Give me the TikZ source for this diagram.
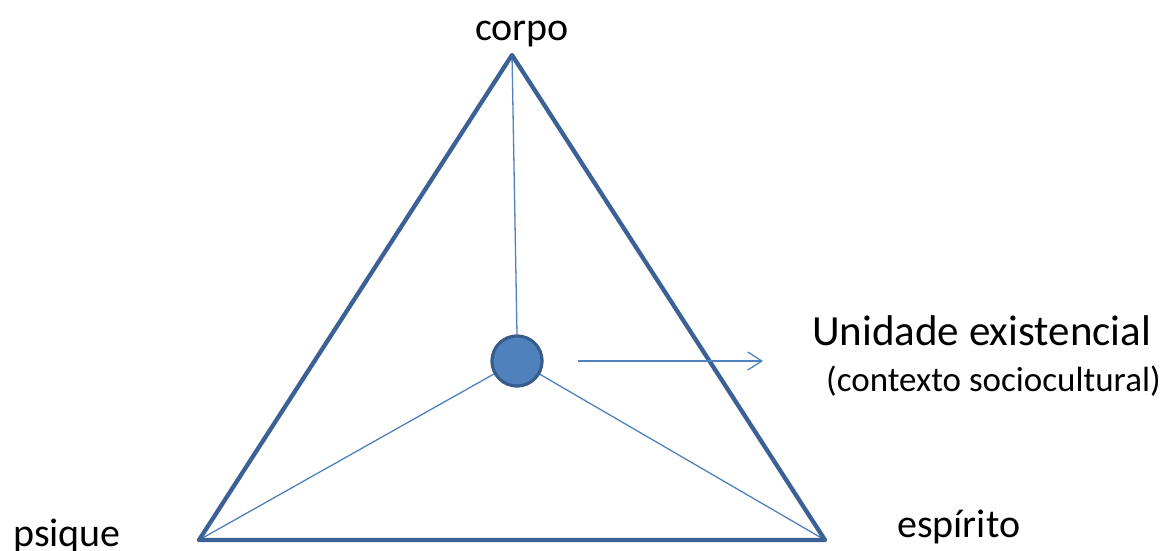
\documentclass[tikz,border=0pt]{standalone}
\usepackage{fontspec}
\setmainfont{Carlito}
\usetikzlibrary{arrows.meta}
\definecolor{edge}{HTML}{3B6196}
\definecolor{fillc}{HTML}{4F81BD}
\definecolor{ring}{HTML}{385D8A}
\tikzset{
  tri/.style={draw=edge,line width=4.3pt,line join=round},
  spoke/.style={draw=fillc,line width=1.3pt},
  unit/.style={circle,fill=fillc,draw=ring,line width=3pt,minimum size=50pt,inner sep=0pt},
  lbl/.style={font=\fontsize{40}{48}\selectfont,inner sep=0pt,text=black},
  lblbig/.style={font=\fontsize{43}{50}\selectfont,inner sep=0pt,text=black},
  lblsmall/.style={font=\fontsize{35}{42}\selectfont,inner sep=0pt,text=black},
  arr/.style={draw=fillc,line width=1.3pt,-{Straight Barb[length=14pt,width=18pt,line width=1.3pt]}}
}
\begin{document}
\begin{tikzpicture}[x=1pt,y=-1pt]
\useasboundingbox (0,0) rectangle (1164,550);
\coordinate (top) at (512,55);
\coordinate (bl) at (199,540);
\coordinate (br) at (825,540);
\node[unit] (u) at (517,361) {};
\draw[spoke] (top) -- (u.north);
\draw[spoke] (bl) -- (u);
\draw[spoke] (br) -- (u);
\draw[tri] (top) -- (bl) -- (br) -- cycle;
\node[unit] at (u) {};
\coordinate (as) at (578,361);
\coordinate (ae) at (763,361);
\draw[arr] (as) -- (ae);
\node[lbl,anchor=base] (corpo) at (522,40) {corpo};
\node[lbl,anchor=base west] (psique) at (13,546) {psique};
\node[lbl,anchor=base west] (esp) at (897,537) {espírito};
\node[lblbig,anchor=base west] (ue) at (812,345) {Unidade existencial};
\node[lblsmall,anchor=base west] (ctx) at (826,391) {(contexto sociocultural)};
\end{tikzpicture}
\end{document}
